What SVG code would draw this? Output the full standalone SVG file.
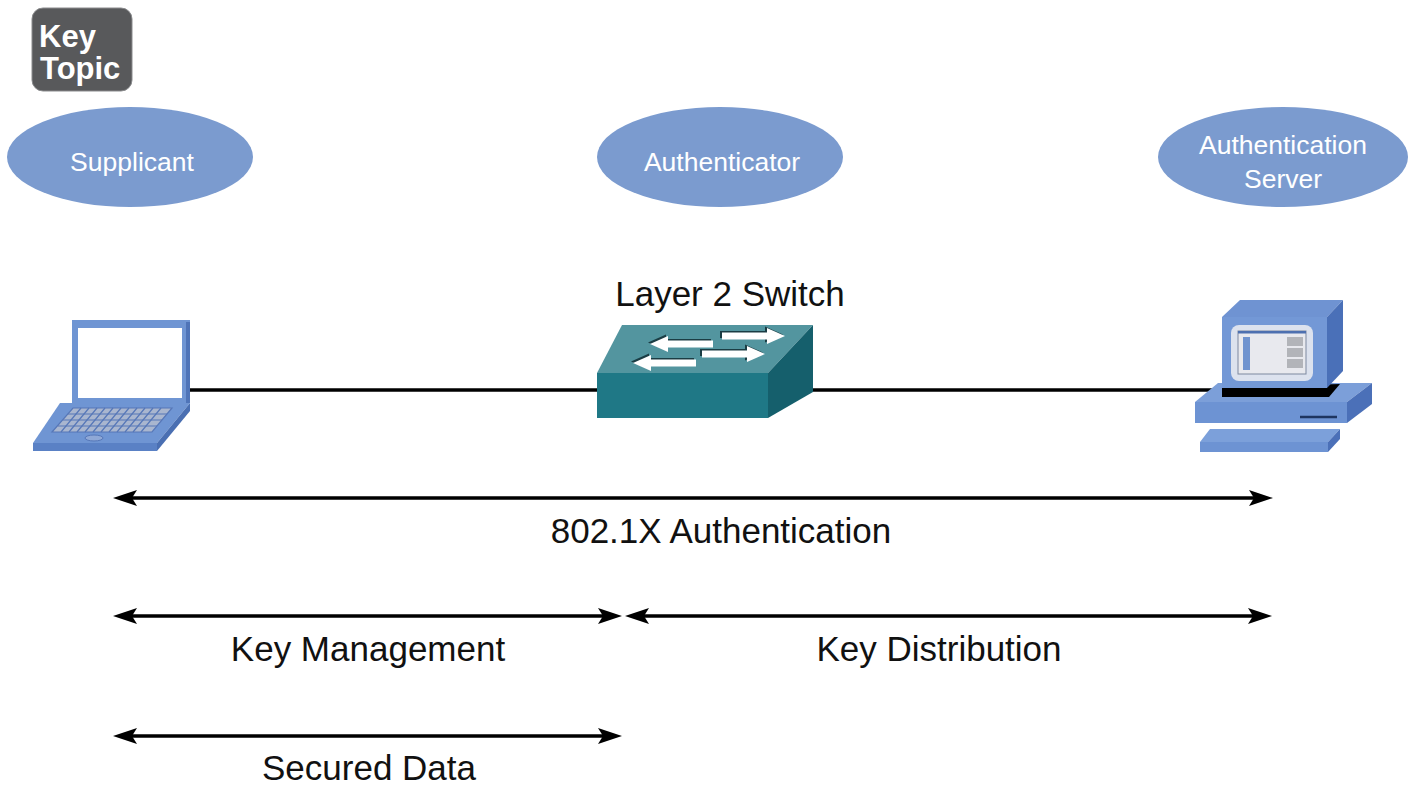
<svg xmlns="http://www.w3.org/2000/svg" width="1408" height="786" viewBox="0 0 1408 786">
  <style>
    .role { fill: #7b9bcf; }
    .role-txt { font-family: "Liberation Sans", Arial, sans-serif; font-size: 26.5px; fill: #ffffff; text-anchor: middle; }
    .lbl { font-family: "Liberation Sans", Arial, sans-serif; font-size: 35px; fill: #111111; text-anchor: middle; }
    .wire { stroke: #000000; stroke-width: 3.5; fill: none; }
    .span { stroke: #000000; stroke-width: 3.5; fill: none; marker-start: url(#head); marker-end: url(#head); }
    .badge-txt { font-family: "Liberation Sans", Arial, sans-serif; font-size: 31px; font-weight: bold; fill: #ffffff; }
    .kb { stroke: #5677b8; stroke-width: 1.2; fill: none; }
  </style>
  <defs>
    <marker id="head" markerUnits="userSpaceOnUse" markerWidth="26" markerHeight="18" viewBox="0 -9 26 18" refX="12" refY="0" orient="auto-start-reverse">
      <path d="M24,0 L0,-8 L5,0 L0,8 Z" fill="#000000"/>
    </marker>
    <path id="sw-arrow" d="M0,-3.5 L45,-3.5 L45,-8 L63,0 L45,8 L45,3.5 L0,3.5 Z"/>
  </defs>

  <rect width="1408" height="786" fill="#ffffff"/>

  <!-- Key Topic badge -->
  <g id="key-topic">
    <rect x="32" y="8" width="100" height="83" rx="11" fill="#58595b" stroke="#8a8b8d" stroke-width="1"/>
    <text class="badge-txt" x="39" y="47">Key</text>
    <text class="badge-txt" x="40" y="79">Topic</text>
  </g>

  <!-- Role ellipses -->
  <g id="supplicant">
    <ellipse class="role" cx="130" cy="157" rx="123" ry="50"/>
    <text class="role-txt" x="132" y="171">Supplicant</text>
  </g>
  <g id="authenticator">
    <ellipse class="role" cx="720" cy="157" rx="123" ry="50"/>
    <text class="role-txt" x="722" y="171">Authenticator</text>
  </g>
  <g id="auth-server">
    <ellipse class="role" cx="1283" cy="157" rx="125" ry="50"/>
    <text class="role-txt" x="1283" y="154">Authentication</text>
    <text class="role-txt" x="1283" y="188">Server</text>
  </g>

  <!-- Cabling between devices -->
  <g id="links">
    <line class="wire" x1="188" y1="390" x2="600" y2="390"/>
    <line class="wire" x1="810" y1="390" x2="1224" y2="390"/>
  </g>

  <!-- Laptop -->
  <g id="laptop">
    <rect x="72" y="320" width="118" height="83" fill="#6f95d3"/>
    <rect x="186" y="322" width="4" height="81" fill="#4f74b8"/>
    <rect x="78" y="328" width="104" height="70" fill="#ffffff"/>
    <polygon points="60,403 190,403 157,443 33,443" fill="#6f95d3"/>
    <polygon points="73,408 172,408 152,432 52,432" fill="#a9b6cf"/>
    <g class="kb">
      <polygon points="73,408 172,408 152,432 52,432"/>
      <line x1="68" y1="414" x2="167" y2="414"/>
      <line x1="63" y1="420" x2="162" y2="420"/>
      <line x1="58" y1="426" x2="157" y2="426"/>
      <line x1="81" y1="408" x2="61" y2="432"/>
      <line x1="89" y1="408" x2="69" y2="432"/>
      <line x1="97" y1="408" x2="77" y2="432"/>
      <line x1="105" y1="408" x2="85" y2="432"/>
      <line x1="113" y1="408" x2="93" y2="432"/>
      <line x1="121" y1="408" x2="101" y2="432"/>
      <line x1="129" y1="408" x2="109" y2="432"/>
      <line x1="137" y1="408" x2="117" y2="432"/>
      <line x1="145" y1="408" x2="125" y2="432"/>
      <line x1="153" y1="408" x2="133" y2="432"/>
      <line x1="161" y1="408" x2="141" y2="432"/>
    </g>
    <ellipse cx="94" cy="438" rx="9" ry="3" fill="#8fa8d6" stroke="#5677b8" stroke-width="1"/>
    <polygon points="33,443 157,443 157,451 33,451" fill="#5a81c5"/>
    <polygon points="157,443 190,403 190,411 157,451" fill="#4a6fb2"/>
  </g>

  <!-- Layer 2 switch -->
  <g id="switch">
    <text class="lbl" x="730" y="306" font-size="34">Layer 2 Switch</text>
    <polygon points="622,325 813,325 768,373 597,373" fill="#53959f"/>
    <rect x="597" y="373" width="171" height="45" fill="#1f7886"/>
    <polygon points="768,373 813,325 813,392 768,418" fill="#155f6c"/>
    <g fill="#1b3d44">
      <use href="#sw-arrow" transform="translate(720,334.5)"/>
      <use href="#sw-arrow" transform="translate(711,342.5) scale(-1,1)"/>
      <use href="#sw-arrow" transform="translate(700,352.5)"/>
      <use href="#sw-arrow" transform="translate(694,361.5) scale(-1,1)"/>
    </g>
    <g fill="#ffffff">
      <use href="#sw-arrow" transform="translate(722,336)"/>
      <use href="#sw-arrow" transform="translate(713,344) scale(-1,1)"/>
      <use href="#sw-arrow" transform="translate(702,354)"/>
      <use href="#sw-arrow" transform="translate(696,363) scale(-1,1)"/>
    </g>
  </g>

  <!-- Authentication server workstation -->
  <g id="server">
    <!-- system unit -->
    <polygon points="1195,402 1218,383 1372,383 1347,402" fill="#7c9fd9"/>
    <rect x="1195" y="402" width="152" height="21" fill="#6d93d3"/>
    <polygon points="1347,402 1372,383 1372,404 1347,423" fill="#4b70b8"/>
    <line x1="1300" y1="417" x2="1337" y2="417" stroke="#1e3560" stroke-width="2.5"/>
    <polygon points="1222,388 1340,384 1329,397 1222,397" fill="#000000"/>
    <!-- monitor -->
    <polygon points="1222,317 1240,300 1343,300 1327,317" fill="#6f93d2"/>
    <rect x="1222" y="317" width="105" height="71" fill="#7398d6"/>
    <polygon points="1327,317 1343,300 1343,371 1327,388" fill="#4a70b8"/>
    <rect x="1231" y="325" width="82" height="56" rx="8" fill="#dce2ee"/>
    <rect x="1238" y="331" width="68" height="43" fill="#e8e9ee" stroke="#7d889f" stroke-width="1"/>
    <rect x="1238" y="331" width="68" height="2.5" fill="#4d70b0"/>
    <rect x="1243" y="337" width="7" height="33" fill="#6f93cf"/>
    <rect x="1287" y="337" width="16" height="9" fill="#b2b4b9"/>
    <rect x="1287" y="348" width="16" height="9" fill="#b2b4b9"/>
    <rect x="1287" y="359" width="16" height="9" fill="#b2b4b9"/>
    <!-- keyboard -->
    <polygon points="1210,429 1340,429 1328,442 1200,442" fill="#7ca0da"/>
    <rect x="1200" y="442" width="128" height="10" fill="#6d93d3"/>
    <polygon points="1328,442 1340,429 1340,439 1328,452" fill="#4b70b8"/>
  </g>

  <!-- Scope arrows -->
  <g id="connectors">
    <line class="span" x1="125" y1="498" x2="1261" y2="498"/>
    <line class="span" x1="125" y1="616" x2="610" y2="616"/>
    <line class="span" x1="637" y1="616" x2="1260" y2="616"/>
    <line class="span" x1="125" y1="736" x2="610" y2="736"/>
  </g>

  <g id="scope-labels">
    <text class="lbl" x="721" y="543">802.1X Authentication</text>
    <text class="lbl" x="368" y="661">Key Management</text>
    <text class="lbl" x="939" y="661">Key Distribution</text>
    <text class="lbl" x="369" y="780">Secured Data</text>
  </g>
</svg>
